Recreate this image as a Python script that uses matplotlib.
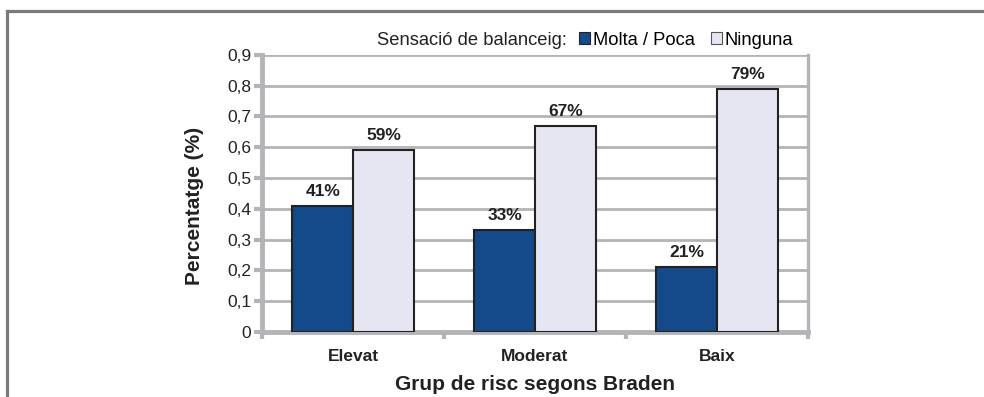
import matplotlib.pyplot as plt
from matplotlib.patches import Patch
from matplotlib.lines import Line2D
import numpy as np

plt.rcParams['font.family'] = ['Liberation Sans', 'DejaVu Sans']

categories = ['Elevat', 'Moderat', 'Baix']
molta_poca = [0.41, 0.33, 0.21]
ninguna = [0.59, 0.67, 0.79]
series_names = ['Molta / Poca', 'Ninguna']
yticks = [0, 0.1, 0.2, 0.3, 0.4, 0.5, 0.6, 0.7, 0.8, 0.9]
ytick_labels = ['0', '0,1', '0,2', '0,3', '0,4', '0,5', '0,6', '0,7', '0,8', '0,9']

blue = '#144a8a'
light = '#e6e6f2'
grid_gray = '#b4b4b8'
txt = '#222222'

fig = plt.figure(figsize=(9.84, 3.97), dpi=100)
ax = fig.add_axes([0.2665, 0.164, 0.5545, 0.698])

x = np.arange(len(categories))
w = 0.335
b1 = ax.bar(x - w / 2, molta_poca, w, color=blue, edgecolor=txt, linewidth=1.5, zorder=3)
b2 = ax.bar(x + w / 2, ninguna, w, color=light, edgecolor=txt, linewidth=1.5, zorder=3)

for bars, vals in [(b1, molta_poca), (b2, ninguna)]:
    for r, v in zip(bars, vals):
        ax.annotate('%d%%' % round(v * 100), (r.get_x() + r.get_width() / 2, v),
                    xytext=(0, 5), textcoords='offset points', ha='center', va='bottom',
                    fontsize=12.5, fontweight='bold', color=txt)

ax.set_xlim(-0.5, 2.5)
ax.set_ylim(0, 0.9)
ax.set_yticks(yticks)
ax.set_yticklabels(ytick_labels, fontsize=12.5, color=txt)
ax.yaxis.grid(True, color=grid_gray, linewidth=2, zorder=0)
ax.set_axisbelow(True)

# category ticks at the group boundaries, labels centred under each group
ax.set_xticks([-0.5, 0.5, 1.5, 2.5])
ax.set_xticklabels([])
ax.set_xticks(x, minor=True)
ax.set_xticklabels(categories, minor=True, fontsize=12.5, fontweight='bold', color=txt)
ax.tick_params(axis='x', which='minor', length=0, pad=12)
ax.tick_params(axis='x', which='major', length=5, width=3, color=grid_gray)
ax.tick_params(axis='y', length=6, width=3, color=grid_gray, pad=2)

for side in ['left', 'bottom']:
    ax.spines[side].set_color(grid_gray)
    ax.spines[side].set_linewidth(3.5)
ax.spines['right'].set_color(grid_gray)
ax.spines['right'].set_linewidth(2.4)
ax.spines['top'].set_visible(False)

ax.set_ylabel('Percentatge (%)', fontsize=15, fontweight='bold', color=txt)
ax.yaxis.set_label_coords(-0.106, 0.455)
ax.set_xlabel('Grup de risc segons Braden', fontsize=15, fontweight='bold', color=txt, labelpad=8)

fig.text(377 / 984, 0.899, 'Sensació de balanceig:', fontsize=13.2, color=txt, va='center')
handles = [Patch(facecolor=blue, edgecolor=txt, linewidth=0.8),
           Patch(facecolor=light, edgecolor='#555555', linewidth=0.8)]
fig.legend(handles, series_names, loc='center left', bbox_to_anchor=(579 / 984, 0.899), ncol=2,
           frameon=False, fontsize=13.2, handlelength=0.6, handleheight=0.6,
           handletextpad=0.15, columnspacing=0.9, borderpad=0, borderaxespad=0)

# outer frame (top and left edges)
frame_y = 1 - 10.5 / 397
fig.add_artist(Line2D([6.5 / 984, 1.0], [frame_y, frame_y], color='#7a7a7a', linewidth=2.3))
fig.add_artist(Line2D([6.5 / 984, 6.5 / 984], [0, frame_y], color='#7a7a7a', linewidth=2.3))

fig.savefig('out.png', dpi=100)
